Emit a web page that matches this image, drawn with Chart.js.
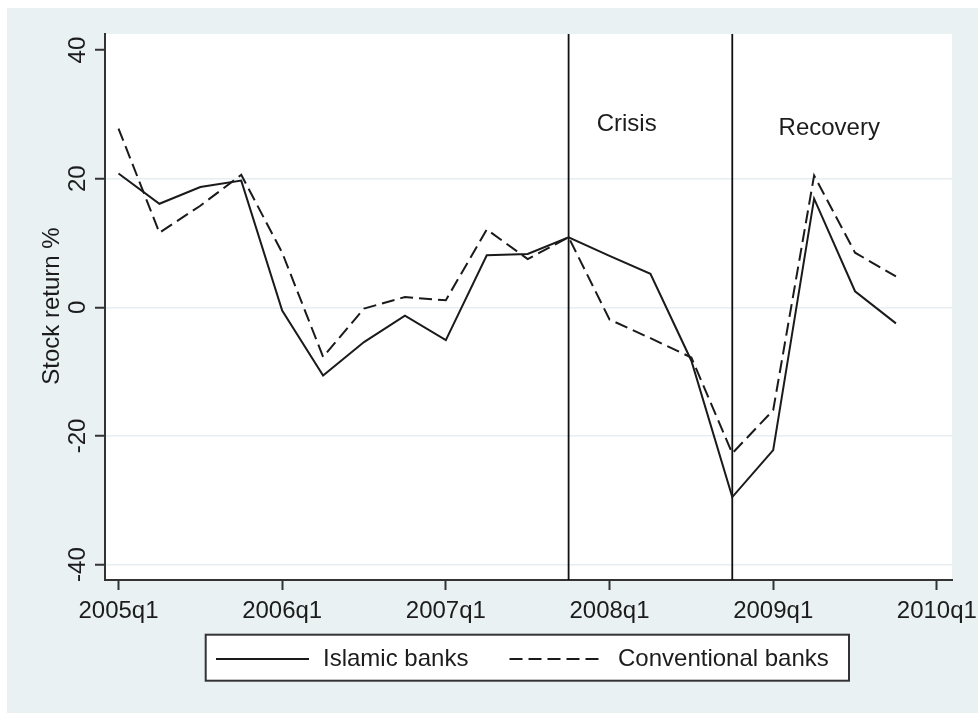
<!DOCTYPE html>
<html>
<head>
<meta charset="utf-8">
<script src="https://cdn.jsdelivr.net/npm/chart.js@4"></script>
<style>
  html, body { margin: 0; padding: 0; background: #ffffff; }
  #wrap { width: 978px; height: 714px; position: relative; }
</style>
</head>
<body>
<div id="wrap"><canvas id="c" width="978" height="714"></canvas></div>
<script>
// ---- data ----
const quarters = ['2005q1','2005q2','2005q3','2005q4','2006q1','2006q2','2006q3','2006q4',
                  '2007q1','2007q2','2007q3','2007q4','2008q1','2008q2','2008q3','2008q4',
                  '2009q1','2009q2','2009q3','2009q4'];
const islamicBanks = [20.8, 16.1, 18.7, 19.7, -0.5, -10.6, -5.4, -1.3, -5.1, 8.1,
                      8.3, 10.9, 8.0, 5.2, -8.3, -29.5, -22.2, 16.9, 2.5, -2.5];
const conventionalBanks = [27.8, 11.6, 15.8, 20.6, 8.5, -7.7, -0.2, 1.6, 1.1, 12.1,
                           7.5, 10.9, -1.9, -4.8, -7.8, -22.7, -16.0, 20.5, 8.5, 4.8];
const xTickLabels = ['2005q1','2006q1','2007q1','2008q1','2009q1','2010q1'];
const yTickValues = [-40, -20, 0, 20, 40];
const periodStarts = ['2007q4', '2008q4'];
const periodLabels = ['Crisis', 'Recovery'];
const seriesNames = ['Islamic banks', 'Conventional banks'];
const yTitle = 'Stock return %';

// ---- helpers ----
function qIndex(label) {
  const y = parseInt(label.slice(0, 4), 10);
  const q = parseInt(label.slice(5), 10);
  return (y - 2005) * 4 + (q - 1);
}
const FONT = "'Liberation Sans', Arial, sans-serif";
const TEXT = '#1c1c1c';
const AXIS = '#333333';
const GRID = '#e6eef1';
const OUTER = '#e9f1f3';

const xTickIdx = xTickLabels.map(qIndex);
const labelByIdx = {};
xTickLabels.forEach((l) => { labelByIdx[qIndex(l)] = l; });

// annotation placement (in data units), kept apart from the data arrays
const periodTextPos = [{ x: 12.42, y: 28.5 }, { x: 17.37, y: 27.9 }];

const bgPlugin = {
  id: 'bg',
  beforeDraw(chart) {
    const { ctx, chartArea: a } = chart;
    ctx.save();
    ctx.fillStyle = '#ffffff';
    ctx.fillRect(0, 0, chart.width, chart.height);
    ctx.fillStyle = OUTER;
    ctx.fillRect(7, 8, chart.width - 7, chart.height - 9);
    ctx.fillStyle = '#ffffff';
    ctx.fillRect(a.left, a.top, a.right - a.left, a.bottom - a.top);
    ctx.restore();
  }
};

const vlinePlugin = {
  id: 'vlines',
  beforeDatasetsDraw(chart) {
    const { ctx, chartArea: a, scales } = chart;
    ctx.save();
    ctx.strokeStyle = '#111111';
    ctx.lineWidth = 1.8;
    periodStarts.forEach((p) => {
      const x = scales.x.getPixelForValue(qIndex(p));
      ctx.beginPath();
      ctx.moveTo(x, a.top);
      ctx.lineTo(x, a.bottom);
      ctx.stroke();
    });
    ctx.restore();
  },
  afterDraw(chart) {
    const { ctx, chartArea: a, scales } = chart;
    ctx.save();
    ctx.fillStyle = TEXT;
    ctx.font = '24px ' + FONT;
    ctx.textAlign = 'center';
    ctx.textBaseline = 'middle';
    periodLabels.forEach((t, i) => {
      const p = periodTextPos[i];
      ctx.fillText(t, scales.x.getPixelForValue(p.x), scales.y.getPixelForValue(p.y));
    });

    // y tick labels (rotated, Stata style)
    const ys = scales.y;
    ys.ticks.forEach((tk) => {
      const y = ys.getPixelForValue(tk.value);
      ctx.save();
      ctx.translate(85, y);
      ctx.rotate(-Math.PI / 2);
      ctx.textAlign = 'center';
      ctx.textBaseline = 'alphabetic';
      ctx.fillText(String(tk.value), 0, 0);
      ctx.restore();
    });
    // y title
    ctx.save();
    ctx.translate(58.5, (a.top + a.bottom) / 2 - 1);
    ctx.rotate(-Math.PI / 2);
    ctx.textAlign = 'center';
    ctx.textBaseline = 'alphabetic';
    ctx.fillText(yTitle, 0, 0);
    ctx.restore();

    // legend box
    const bx = 205.7, by = 634.7, bw = 849 - 205.7, bh = 680.7 - 634.7;
    ctx.fillStyle = '#ffffff';
    ctx.fillRect(bx, by, bw, bh);
    ctx.strokeStyle = AXIS;
    ctx.lineWidth = 2;
    ctx.strokeRect(bx, by, bw, bh);
    const items = [
      { x0: 216, x1: 309, tx: 323 },
      { x0: 509.5, x1: 603, tx: 618 }
    ];
    chart.data.datasets.forEach((ds, i) => {
      const it = items[i];
      const ly = 659;
      ctx.strokeStyle = ds.borderColor;
      ctx.lineWidth = ds.borderWidth;
      ctx.setLineDash(ds.borderDash || []);
      ctx.beginPath();
      ctx.moveTo(it.x0, ly);
      ctx.lineTo(it.x1, ly);
      ctx.stroke();
      ctx.setLineDash([]);
      ctx.fillStyle = TEXT;
      ctx.textAlign = 'left';
      ctx.textBaseline = 'middle';
      ctx.fillText(ds.label, it.tx, ly);
    });
    ctx.restore();
  }
};

const chart = new Chart(document.getElementById('c'), {
  type: 'line',
  data: {
    datasets: [
      {
        label: seriesNames[0],
        data: quarters.map((q, i) => ({ x: qIndex(q), y: islamicBanks[i] })),
        borderColor: '#1a1a1a',
        borderWidth: 2,
        pointRadius: 0,
        tension: 0,
        fill: false
      },
      {
        label: seriesNames[1],
        data: quarters.map((q, i) => ({ x: qIndex(q), y: conventionalBanks[i] })),
        borderColor: '#1a1a1a',
        borderWidth: 2,
        borderDash: [13, 6],
        pointRadius: 0,
        tension: 0,
        fill: false
      }
    ]
  },
  options: {
    responsive: false,
    animation: false,
    events: [],
    layout: { padding: { left: 0, top: 34, right: 26, bottom: 0 } },
    plugins: { legend: { display: false }, tooltip: { enabled: false } },
    scales: {
      x: {
        type: 'linear',
        min: -0.33,
        max: 20.37,
        afterBuildTicks(scale) { scale.ticks = xTickIdx.map((v) => ({ value: v })); },
        afterFit(scale) { scale.height = 134; scale.paddingLeft = 0; scale.paddingRight = 0; },
        ticks: {
          autoSkip: false,
          maxRotation: 0,
          minRotation: 0,
          padding: 7,
          color: TEXT,
          font: { family: FONT, size: 24 },
          callback: (v) => labelByIdx[v] || ''
        },
        grid: {
          drawOnChartArea: false,
          drawTicks: true,
          tickLength: 10,
          tickColor: AXIS,
          tickWidth: 2
        },
        border: { display: true, color: AXIS, width: 2 }
      },
      y: {
        type: 'linear',
        min: -42.4,
        max: 42.5,
        afterBuildTicks(scale) { scale.ticks = yTickValues.map((v) => ({ value: v })); },
        afterFit(scale) { scale.width = 105; scale.paddingTop = 0; scale.paddingBottom = 0; },
        ticks: { display: false },
        grid: {
          color: (c) => (c.tick && c.tick.value === 40 ? 'rgba(0,0,0,0)' : GRID),
          lineWidth: 1.5,
          drawTicks: true,
          tickLength: 10,
          tickColor: AXIS,
          tickWidth: 2
        },
        border: { display: true, color: AXIS, width: 2 }
      }
    }
  },
  plugins: [bgPlugin, vlinePlugin]
});
</script>
</body>
</html>
